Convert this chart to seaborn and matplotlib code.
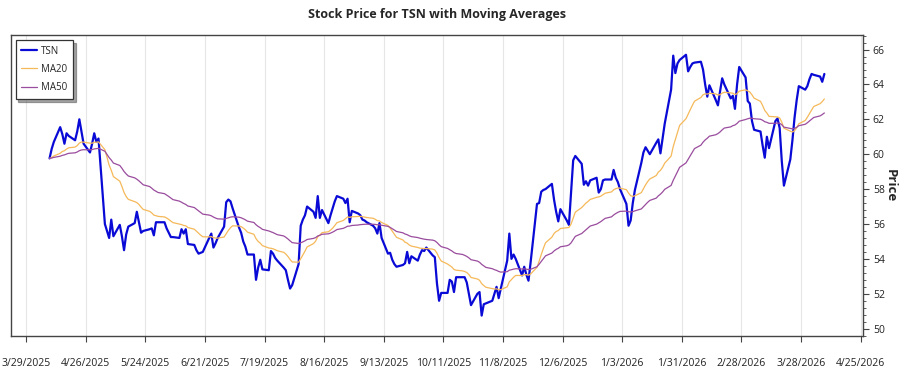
import pandas as pd
import numpy as np
import seaborn as sns
import matplotlib.pyplot as plt
import matplotlib.dates as mdates
from matplotlib.ticker import FuncFormatter, MultipleLocator, FixedLocator

# Closing prices, one value per business day (4/9/2025 - 4/8/2026)
apr_2025 = [59.76, 60.3, 60.7, 61.55, 61.15, 60.6, 61.2, 61.05, 60.8, 61.3, 62.0, 61.3, 60.6,
            60.1, 60.6, 61.2]
may_2025 = [60.7, 60.9, 56.0, 55.6, 55.2, 56.25, 55.3, 55.95, 55.3, 54.5, 55.4, 55.85, 56.05, 56.7,
            56.1, 55.5, 55.6, 55.7, 55.75, 55.35, 56.1, 56.1]
jun_2025 = [56.1, 55.75, 55.5, 55.25, 55.25, 55.2, 55.7, 55.45, 55.7, 54.85, 54.8, 54.5, 54.3, 54.35,
            54.4, 55.2, 55.45, 54.65, 54.9, 55.2, 55.85]
jul_2025 = [57.25, 57.4, 57.3, 56.9, 55.8, 55.5, 55.0, 54.7, 54.25, 54.25, 52.8, 53.5, 53.95, 53.4,
            53.35, 54.45, 54.3, 54.05, 53.9, 53.5, 53.35, 52.8, 52.3]
aug_2025 = [52.5, 53.7, 55.9, 56.25, 56.5, 57.0, 56.7, 56.35, 57.6, 56.35, 56.8, 56.05, 56.5, 56.9,
            57.3, 57.6, 57.45, 57.2, 57.45, 56.1, 56.75]
sep_2025 = [56.6, 56.5, 56.25, 56.2, 56.1, 55.9, 55.75, 55.45, 56.05, 55.2, 54.3, 54.35, 53.95, 53.7,
            53.55, 53.65, 53.75, 54.4, 53.75, 54.15, 53.9, 54.25]
oct_2025 = [54.5, 54.45, 54.65, 54.2, 54.1, 52.6, 51.6, 52.05, 52.05, 52.8, 52.7, 52.1, 52.95, 52.95,
            52.95, 52.65, 52.0, 51.35, 52.0, 52.1, 50.75, 51.4, 51.45]
nov_2025 = [51.6, 52.0, 52.4, 51.75, 52.3, 53.9, 55.45, 54.0, 54.25, 54.0, 53.05, 53.55, 53.1, 52.75,
            53.8, 57.15, 57.2, 57.85, 57.95, 58.0]
dec_2025 = [58.3, 57.4, 56.7, 56.15, 56.85, 56.2, 55.95, 57.8, 59.65, 59.9, 59.45, 58.25, 58.45, 58.2,
            58.5, 58.65, 57.8, 58.0, 58.5, 58.55, 58.55, 59.1, 58.65]
jan_2026 = [58.4, 58.0, 57.15, 55.9, 56.2, 57.2, 57.95, 59.5, 60.1, 60.4, 60.2, 60.0, 60.65, 60.85,
            60.05, 60.9, 61.75, 63.7, 65.65, 64.65, 65.2, 65.4]
feb_2026 = [65.7, 64.75, 65.0, 65.2, 65.25, 65.3, 64.85, 64.0, 63.3, 63.95, 63.1, 62.8, 63.6, 64.35,
            64.0, 63.2, 63.35, 62.6, 64.0, 65.0]
mar_2026 = [64.4, 63.05, 62.9, 61.9, 61.4, 61.3, 60.5, 59.8, 61.0, 60.35, 61.9, 62.05, 61.5, 59.6,
            58.2, 59.7, 60.8, 62.1, 63.1, 63.9, 63.7, 63.9]
apr_2026 = [64.3, 64.6, 64.55, 64.45, 64.15, 64.6]

ticker = "TSN"
tick_dates = pd.date_range("2025-03-29", "2026-04-25", freq="28D")

prices = (apr_2025 + may_2025 + jun_2025 + jul_2025 + aug_2025 + sep_2025 + oct_2025
          + nov_2025 + dec_2025 + jan_2026 + feb_2026 + mar_2026 + apr_2026)
df = pd.DataFrame({"Date": pd.bdate_range("2025-04-09", periods=len(prices)),
                   "Close": prices})
df["MA20"] = df["Close"].ewm(span=20, adjust=False).mean()
df["MA50"] = df["Close"].ewm(span=50, adjust=False).mean()

sns.set_style("white")
plt.rcParams["font.family"] = ["Open Sans", "DejaVu Sans"]

fig = plt.figure(figsize=(9, 3.75), dpi=100)
ax = fig.add_axes([0.012, 0.104, 0.947, 0.803])

sns.lineplot(data=df, x="Date", y="Close", color="#0a0ad6", lw=1.6, label=ticker, ax=ax)
sns.lineplot(data=df, x="Date", y="MA20", color="#f5b95a", lw=0.9, label="MA20", ax=ax)
sns.lineplot(data=df, x="Date", y="MA50", color="#9a4c9e", lw=0.9, label="MA50", ax=ax)

ax.set_ylim(49.58, 66.84)
ax.xaxis.set_major_locator(FixedLocator(mdates.date2num(tick_dates)))
ax.xaxis.set_major_formatter(FuncFormatter(
    lambda v, p: (lambda d: f"{d.month}/{d.day}/{d.year}")(mdates.num2date(v))))
ax.yaxis.set_major_locator(MultipleLocator(2))
ax.yaxis.set_minor_locator(MultipleLocator(0.4))
ax.yaxis.tick_right()
ax.yaxis.set_label_position("right")

ax.set_xlabel("")
ax.set_ylabel("Price", rotation=270, ha="center", va="center", fontsize=9.5, fontweight="bold")
ax.yaxis.set_label_coords(1.032, 0.5)
ax.set_title(f"Stock Price for {ticker} with Moving Averages", fontsize=9, fontweight="bold", pad=12)

ax.grid(axis="x", color="#e6e6e6", lw=0.8)
ax.grid(axis="y", visible=False)
for s in ax.spines.values():
    s.set_color("#444444")
    s.set_linewidth(1.0)
ax.tick_params(axis="x", which="major", direction="out", length=4, width=0.8, color="#444444",
               pad=12, labelsize=7.5, labelcolor="#222222", bottom=True)
ax.tick_params(axis="y", which="major", direction="out", length=4, width=0.8, color="#444444",
               pad=3, labelsize=7.5, labelcolor="#222222", right=True)
ax.tick_params(axis="y", which="minor", direction="out", length=2, width=0.6, color="#444444", right=True)

leg = ax.legend(loc="upper left", fontsize=7, frameon=True, fancybox=False, shadow=True,
                borderaxespad=0.5, handlelength=1.6, handletextpad=0.4, labelspacing=0.75,
                borderpad=0.6)
leg.get_frame().set_edgecolor("#333333")
leg.get_frame().set_linewidth(0.9)

fig.savefig("out.png", dpi=100)
